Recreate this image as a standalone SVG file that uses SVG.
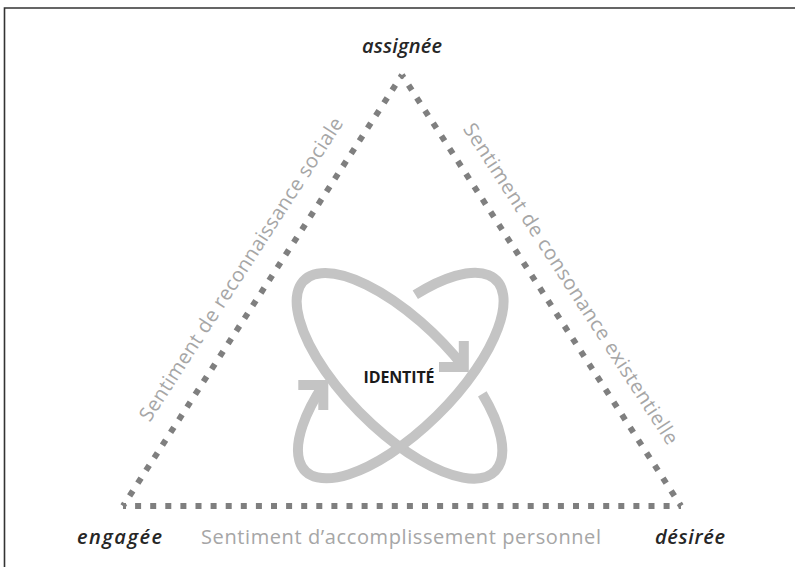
<svg xmlns="http://www.w3.org/2000/svg" width="795" height="567" viewBox="0 0 795 567">
<style>
.side{stroke:#7f7f7f;stroke-width:6;stroke-dasharray:6 9.1;stroke-dashoffset:3;fill:none}
.orb{stroke:#c4c4c4;stroke-width:10;fill:none}
.head{stroke:#c4c4c4;stroke-width:10;fill:none;stroke-linejoin:miter}
.corner{font-family:"Open Sans","Liberation Sans",sans-serif;font-style:italic;font-weight:600;font-size:20px;fill:#262626}
.lbl{font-family:"Open Sans","Liberation Sans",sans-serif;font-size:20px;fill:#a6a6a6}
</style>
<rect width="795" height="567" fill="#fff"/>
<path d="M4.5 567 V8 H795" fill="none" stroke="#333" stroke-width="1.6"/>
<g id="connectors">
<line class="side" x1="402" y1="75" x2="123" y2="506"/>
<line class="side" x1="402" y1="75" x2="681" y2="506"/>
<line class="side" x1="123" y1="506" x2="681" y2="506"/>
</g>
<g id="identite">
<path class="orb" d="M482.3 393.8 A135 54 45 1 1 463.8 367.1"/>
<polyline class="head" points="439,367.1 463.8,367.1 463.8,341"/>
<path class="orb" d="M415.3 294.8 A135 54 -45 1 1 323.3 385"/>
<polyline class="head" points="298.3,385 323.3,385 323.3,410"/>
<text x="399" y="383" text-anchor="middle" textLength="71" font-family="'Open Sans','Liberation Sans',sans-serif" font-weight="700" font-size="16" fill="#1a1a1a">IDENTITÉ</text>
</g>
<g id="assignee"><text class="corner" x="402" y="53" text-anchor="middle" textLength="80">assignée</text></g>
<g id="engagee"><text class="corner" x="119.5" y="544" text-anchor="middle" textLength="85">engagée</text></g>
<g id="desiree"><text class="corner" x="690" y="544" text-anchor="middle" textLength="70">désirée</text></g>
<g id="label-bottom"><text class="lbl" x="401" y="544" text-anchor="middle" textLength="400">Sentiment d’accomplissement personnel</text></g>
<g id="label-left"><text class="lbl" transform="translate(266.1 285.4) rotate(-57.1)" x="0" y="-23" text-anchor="middle" textLength="357">Sentiment de reconnaissance sociale</text></g>
<g id="label-right"><text class="lbl" transform="translate(547.6 298.9) rotate(57.1)" x="0" y="-21" text-anchor="middle" textLength="378">Sentiment de consonance existentielle</text></g>
</svg>
